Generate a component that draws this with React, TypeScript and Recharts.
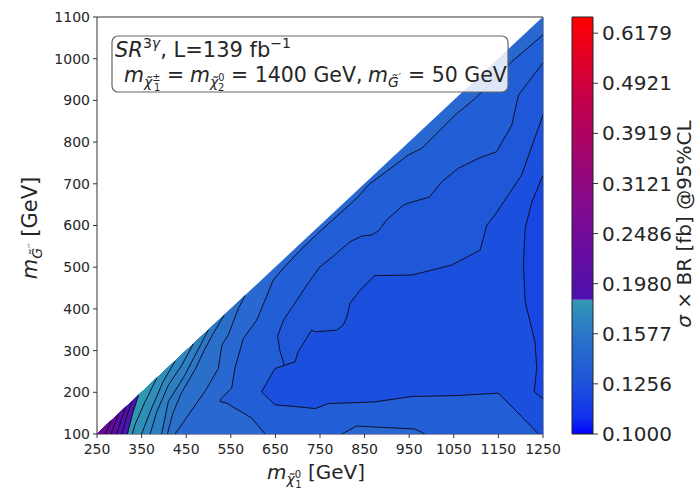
import React from "react";
import { ComposedChart, Scatter, XAxis, YAxis, ReferenceLine, ReferenceArea } from "recharts";

type P = [number, number];

const X_TICKS = [250, 350, 450, 550, 650, 750, 850, 950, 1050, 1150, 1250];
const Y_TICKS = [100, 200, 300, 400, 500, 600, 700, 800, 900, 1000, 1100];
const CBAR_TICKS = [0.1, 0.1256, 0.1577, 0.198, 0.2486, 0.3121, 0.3919, 0.4921, 0.6179];
const CBAR_MIN = 0.1;
const CBAR_MAX = 0.665;
const CBAR_SPLIT = 0.184;

// kinematically allowed triangle (m_G'' <= m_chi - 150)
const EDGE: P[] = [[250, 100], [1250, 1100], [1250, 100]];

// contour lines (GeV, GeV)
const ALPHA: P[] = [[1250, 1057], [1180, 993], [1098, 905], [1053, 865], [978, 785], [948, 769], [918, 745], [858, 697], [836, 669], [780, 615], [742, 578], [705, 540], [668, 498], [645, 469], [630, 429], [608, 373], [578, 329], [559, 257], [552, 210], [529, 186], [526, 178], [541, 174], [597, 138], [627, 100]];
const BETA: P[] = [[1250, 990], [1195, 913], [1180, 841], [1146, 777], [1105, 761], [1060, 737], [1023, 705], [995, 668], [952, 655], [937, 649], [899, 613], [881, 587], [865, 577], [845, 575], [817, 561], [787, 533], [750, 501], [728, 469], [698, 421], [668, 373], [655, 335], [660, 300], [670, 265]];
const INNER: P[] = [[1250, 865], [1202, 721], [1142, 625], [1124, 601], [1109, 541], [1045, 505], [956, 481], [873, 480], [840, 445], [817, 413], [810, 380], [802, 361], [787, 349], [739, 345], [731, 349], [701, 297], [694, 273], [649, 257], [619, 201], [649, 170], [694, 166], [739, 161], [769, 173], [873, 177], [956, 190], [1053, 192], [1150, 198], [1187, 158], [1240, 100]];
const RIGHT: P[] = [[1250, 720], [1225, 657], [1210, 593], [1206, 505], [1210, 417], [1232, 321], [1236, 257], [1230, 201], [1250, 185]];
const BUMP: P[] = [[799, 100], [832, 119], [888, 116], [963, 112], [985, 100]];
const L6: P[] = [[582, 432], [567, 401], [544, 337], [530, 313], [522, 257], [492, 202], [455, 146], [425, 100]];
const L5B: P[] = [[535, 385], [510, 340], [490, 300], [470, 255], [440, 200], [420, 150], [408, 100]];
const L5: P[] = [[500, 350], [470, 289], [447, 241], [410, 178], [395, 100]];
const L4: P[] = [[466, 316], [440, 265], [410, 217], [384, 153], [369, 100]];
const L3: P[] = [[425, 275], [398, 225], [369, 153], [350, 100]];
const L2: P[] = [[384, 234], [358, 178], [335, 122], [329, 100]];
const P0: P[] = [[343, 193], [330, 150], [318, 100]];
const PA: P[] = [[328, 178], [316, 140], [306, 100]];
const PB: P[] = [[314, 164], [303, 130], [294, 100]];
const PC: P[] = [[298, 148], [289, 122], [281, 100]];
const PD: P[] = [[282, 132], [275, 115], [268, 100]];

const C = {
  k0: "#2868d0", k1: "#225ed5", k2: "#1f57d9", k3: "#1b4fde", k4: "#1746e3",
  t6: "#2a70cb", t5: "#2b77c6", t4: "#2c7fc1", t3: "#2d87bc", t2: "#2e8fb7", t1: "#3097b2",
  p1: "#4a14b0", p2: "#5210a8", p3: "#5b0ca2", p4: "#640a9a", p5: "#6e0892",
};

const corner: P = [250, 100];
const regions: { pts: P[]; fill: string }[] = [
  { pts: EDGE, fill: C.k0 },
  { pts: [...ALPHA, [1250, 100]], fill: C.k1 },
  { pts: [...BETA, ...INNER.slice(0, 17).reverse()], fill: C.k2 },
  { pts: [...INNER, [1250, 100]], fill: C.k3 },
  { pts: RIGHT, fill: C.k4 },
  { pts: BUMP, fill: C.k0 },
  { pts: [...L6, corner], fill: C.t6 },
  { pts: [...L5B, corner], fill: C.t5 },
  { pts: [...L5, corner], fill: C.t4 },
  { pts: [...L4, corner], fill: C.t3 },
  { pts: [...L3, corner], fill: C.t2 },
  { pts: [...L2, corner], fill: C.t1 },
  { pts: [...P0, corner], fill: C.p1 },
  { pts: [...PA, corner], fill: C.p2 },
  { pts: [...PB, corner], fill: C.p3 },
  { pts: [...PC, corner], fill: C.p4 },
  { pts: [...PD, corner], fill: C.p5 },
];
const lines: P[][] = [ALPHA, BETA, INNER, RIGHT, BUMP, L6, L5B, L5, L4, L3, L2, P0, PA, PB, PC, PD];

const toData = (pts: P[]) => pts.map(([x, y]) => ({ x, y }));

const pathOf = (pts: { x: number; y: number }[], close: boolean) =>
  pts.map((p, i) => `${i ? "L" : "M"}${p.x},${p.y}`).join(" ") + (close ? " Z" : "");

const fillLine = (color: string) => (props: any) => {
  const pts = props.points || [];
  return <path d={pathOf(pts, true)} fill={color} stroke={color} strokeWidth={0.6} />;
};
const strokeLine = (props: any) => {
  const pts = props.points || [];
  return <path d={pathOf(pts, false)} fill="none" stroke="#10102a" strokeWidth={1} strokeLinejoin="round" />;
};
const noDot = () => <g />;

const FONT = "DejaVu Sans, Verdana, sans-serif";
const INK = "#262626";

// m with a tilde-particle subscript and stacked sup/sub indices
function MSub({ x, y, base, sup, sub, size }: { x: number; y: number; base: string; sup: string; sub: string; size: number }) {
  return (
    <text x={x} y={y} fontSize={size} fill={INK} fontFamily={FONT}>
      <tspan fontStyle="italic">m</tspan>
      <tspan fontSize={size * 0.68} fontStyle="italic" dy={5}>{base}</tspan>
      <tspan fontSize={size * 0.48} dy={-6}>{sup}</tspan>
      {sub ? <tspan fontSize={size * 0.48} dx={-size * 0.32} dy={10}>{sub}</tspan> : null}
    </text>
  );
}

export default function App() {
  return (
    <div style={{ position: "absolute", left: 0, top: 0, width: 699, height: 489, background: "#fff", fontFamily: FONT }}>
      <div style={{ position: "absolute", left: 0, top: 0 }}>
        <ComposedChart width={699} height={489} margin={{ top: 17, right: 156, bottom: 0, left: 0 }}>
          <XAxis
            dataKey="x"
            type="number"
            domain={[250, 1250]}
            ticks={X_TICKS}
            interval={0}
            allowDataOverflow
            height={55}
            tickSize={4}
            tickMargin={6}
            stroke="#333"
            tick={{ fontSize: 14, fill: INK, fontFamily: FONT }}
          />
          <YAxis
            dataKey="y"
            type="number"
            domain={[100, 1100]}
            ticks={Y_TICKS}
            interval={0}
            allowDataOverflow
            width={97}
            tickSize={4}
            tickMargin={3}
            stroke="#333"
            tick={{ fontSize: 14, fill: INK, fontFamily: FONT }}
          />
          {regions.map((r, i) => (
            <Scatter
              key={`r${i}`}
              data={toData(r.pts)}
              line={fillLine(r.fill)}
              lineType="joint"
              shape={noDot}
              isAnimationActive={false}
            />
          ))}
          {lines.map((l, i) => (
            <Scatter
              key={`l${i}`}
              data={toData(l)}
              line={strokeLine}
              lineType="joint"
              shape={noDot}
              isAnimationActive={false}
            />
          ))}
          <ReferenceLine y={1100} stroke="#333" ifOverflow="visible" />
          <ReferenceLine x={1250} stroke="#333" ifOverflow="visible" />

          {/* axis titles */}
          <text x={316} y={479} fontSize={20} fill={INK} fontFamily={FONT} textAnchor="middle">
            <tspan fontStyle="italic">m</tspan>
            <tspan fontSize={14} fontStyle="italic" dy={5}>χ̃</tspan>
            <tspan fontSize={10} dy={-6}>0</tspan>
            <tspan fontSize={10} dx={-6} dy={10}>1</tspan>
            <tspan dy={-9}> [GeV]</tspan>
          </text>
          <text x={0} y={0} fontSize={21} fill={INK} fontFamily={FONT} textAnchor="middle" transform="translate(37,228) rotate(-90)">
            <tspan fontStyle="italic">m</tspan>
            <tspan fontSize={14} fontStyle="italic" dy={5}>G̃</tspan>
            <tspan fontSize={10} dy={-6}>′′</tspan>
            <tspan dy={1}> [GeV]</tspan>
          </text>
        </ComposedChart>
      </div>

      {/* annotation box, drawn above the filled contours */}
      <svg width={699} height={489} style={{ position: "absolute", left: 0, top: 0, pointerEvents: "none" }}>
        <rect x={112} y={36} width={396} height={56} rx={6} fill="#fff" fillOpacity={0.85} stroke="#666" strokeWidth={1.2} />
        <text x={115} y={57} fontSize={21} fill={INK} fontFamily={FONT}>
          <tspan fontStyle="italic">SR</tspan>
          <tspan fontSize={14} dy={-9}>3</tspan>
          <tspan fontSize={14} fontStyle="italic">γ</tspan>
          <tspan dy={9}>, L=139 fb</tspan>
          <tspan fontSize={14} dy={-9}>−1</tspan>
        </text>
        <MSub x={124} y={82} size={20.5} base="χ̃" sup="±" sub="1" />
        <text x={167} y={82} fontSize={20.5} fill={INK} fontFamily={FONT}>=</text>
        <MSub x={190} y={82} size={20.5} base="χ̃" sup="0" sub="2" />
        <text x={231} y={82} fontSize={20.5} fill={INK} fontFamily={FONT}>= 1400 GeV,</text>
        <MSub x={368} y={82} size={20.5} base="G̃" sup="′" sub="" />
        <text x={408} y={82} fontSize={20.5} fill={INK} fontFamily={FONT}>= 50 GeV</text>
      </svg>

      <div style={{ position: "absolute", left: 560, top: 0 }}>
        <ComposedChart
          width={139}
          height={489}
          margin={{ top: 17, right: 0, bottom: 55, left: 12 }}
          data={[{ x: 0, v: CBAR_MIN }, { x: 1, v: CBAR_MAX }]}
        >
          <defs>
            <linearGradient id="cbLow" x1="0" y1="1" x2="0" y2="0">
              <stop offset="0%" stopColor="#0000ff" />
              <stop offset="12%" stopColor="#1030ee" />
              <stop offset="40%" stopColor="#1f55d8" />
              <stop offset="75%" stopColor="#2a76c8" />
              <stop offset="100%" stopColor="#3399b3" />
            </linearGradient>
            <linearGradient id="cbHigh" x1="0" y1="1" x2="0" y2="0">
              <stop offset="0%" stopColor="#4c10b0" />
              <stop offset="35%" stopColor="#850a8c" />
              <stop offset="70%" stopColor="#c2004c" />
              <stop offset="100%" stopColor="#ff0000" />
            </linearGradient>
          </defs>
          <XAxis dataKey="x" type="number" domain={[0, 1]} hide />
          <YAxis
            dataKey="v"
            orientation="right"
            scale="log"
            type="number"
            domain={[CBAR_MIN, CBAR_MAX]}
            allowDataOverflow
            ticks={CBAR_TICKS}
            interval={0}
            width={106}
            tickSize={5}
            tickMargin={4}
            axisLine={false}
            stroke="#333"
            tickFormatter={(v: number) => v.toFixed(4)}
            tick={{ fontSize: 20, fill: INK, fontFamily: FONT }}
          />
          <ReferenceArea x1={0} x2={1} y1={CBAR_MIN} y2={CBAR_SPLIT} fill="url(#cbLow)" fillOpacity={1} stroke="none" />
          <ReferenceArea x1={0} x2={1} y1={CBAR_SPLIT} y2={CBAR_MAX} fill="url(#cbHigh)" fillOpacity={1} stroke="none" />
          <ReferenceArea x1={0} x2={1} y1={CBAR_MIN} y2={CBAR_MAX} fill="none" fillOpacity={0} stroke="#222" strokeWidth={1} />
          <text x={0} y={0} fontSize={20} fill={INK} fontFamily={FONT} textAnchor="middle" transform="translate(131,224) rotate(-90)">
            <tspan fontStyle="italic">σ</tspan>
            <tspan> × BR [fb] @95%CL</tspan>
          </text>
        </ComposedChart>
      </div>
    </div>
  );
}
